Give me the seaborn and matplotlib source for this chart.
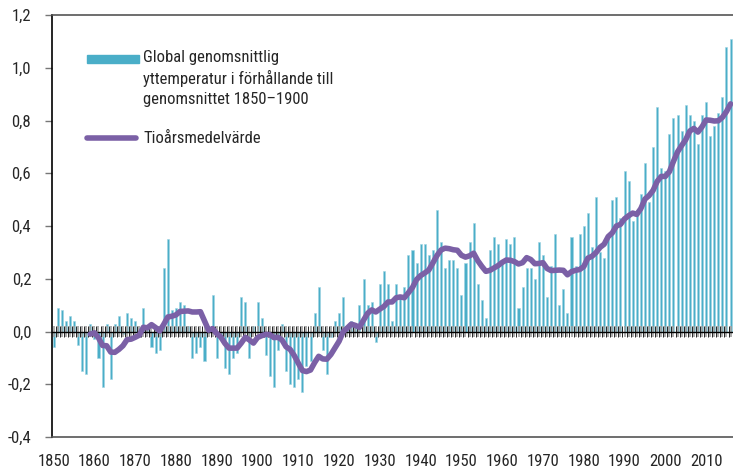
import matplotlib
matplotlib.use('Agg')
import matplotlib.pyplot as plt
import seaborn as sns
import pandas as pd
from matplotlib import font_manager
from matplotlib.patches import Rectangle
from matplotlib.lines import Line2D

# Global mean surface temperature, relative to the 1850-1900 average (degrees C)
years = list(range(1850, 2017))
anomaly = [
    -0.06, 0.09, 0.08, 0.04, 0.06, 0.04, -0.05, -0.15, -0.16, 0.03,   # 1850s
    -0.03, -0.10, -0.21, 0.03, -0.18, 0.03, 0.06, -0.01, 0.07, 0.05,  # 1860s
    0.04, -0.02, 0.09, 0.01, -0.06, -0.08, -0.07, 0.24, 0.35, 0.08,   # 1870s
    0.09, 0.11, 0.10, 0.02, -0.10, -0.08, -0.06, -0.11, 0.00, 0.14,   # 1880s
    -0.10, -0.02, -0.14, -0.16, -0.10, -0.08, 0.13, 0.11, -0.10, 0.02,  # 1890s
    0.11, 0.05, -0.09, -0.17, -0.21, -0.07, 0.03, -0.15, -0.20, -0.21,  # 1900s
    -0.18, -0.23, -0.13, -0.11, 0.07, 0.17, -0.07, -0.16, -0.02, 0.04,  # 1910s
    0.07, 0.13, 0.01, 0.04, 0.02, 0.10, 0.20, 0.10, 0.11, -0.04,      # 1920s
    0.18, 0.23, 0.18, 0.04, 0.18, 0.13, 0.17, 0.29, 0.31, 0.26,       # 1930s
    0.33, 0.33, 0.29, 0.31, 0.46, 0.34, 0.24, 0.27, 0.27, 0.24,       # 1940s
    0.14, 0.26, 0.34, 0.41, 0.18, 0.12, 0.05, 0.31, 0.36, 0.33,       # 1950s
    0.26, 0.35, 0.33, 0.36, 0.09, 0.17, 0.24, 0.24, 0.20, 0.34,       # 1960s
    0.29, 0.13, 0.25, 0.37, 0.10, 0.16, 0.07, 0.36, 0.25, 0.37,       # 1970s
    0.40, 0.45, 0.32, 0.51, 0.30, 0.28, 0.36, 0.50, 0.51, 0.43,       # 1980s
    0.61, 0.57, 0.42, 0.46, 0.52, 0.64, 0.49, 0.70, 0.85, 0.62,       # 1990s
    0.61, 0.75, 0.81, 0.82, 0.76, 0.86, 0.82, 0.80, 0.71, 0.82,       # 2000s
    0.87, 0.74, 0.78, 0.83, 0.89, 1.08, 1.11,                         # 2010s
]

# Ten-year average, 1859-2016
avg_years = list(range(1859, 2017))
ten_year_avg = [
    -0.01,                                                              # 1859
    -0.005, -0.024, -0.053, -0.054, -0.078, -0.079, -0.068, -0.054, -0.031, -0.029,
    -0.022, -0.014, 0.016, 0.014, 0.026, 0.015, 0.002, 0.027, 0.055, 0.058,
    0.063, 0.076, 0.077, 0.078, 0.074, 0.074, 0.075, 0.040, 0.005, 0.011,
    -0.008, -0.021, -0.045, -0.063, -0.063, -0.063, -0.044, -0.022, -0.032, -0.044,
    -0.023, -0.016, -0.011, -0.012, -0.023, -0.022, -0.032, -0.058, -0.068, -0.091,
    -0.120, -0.148, -0.152, -0.146, -0.118, -0.094, -0.104, -0.105, -0.087, -0.062,
    -0.037, -0.001, 0.013, 0.028, 0.023, 0.016, 0.043, 0.069, 0.082, 0.074,
    0.085, 0.095, 0.112, 0.112, 0.128, 0.131, 0.128, 0.147, 0.167, 0.197,
    0.212, 0.222, 0.233, 0.260, 0.288, 0.309, 0.316, 0.314, 0.310, 0.308,
    0.289, 0.282, 0.287, 0.297, 0.269, 0.247, 0.228, 0.232, 0.241, 0.250,
    0.262, 0.271, 0.270, 0.265, 0.256, 0.261, 0.280, 0.273, 0.257, 0.258,
    0.261, 0.239, 0.231, 0.232, 0.233, 0.232, 0.215, 0.227, 0.232, 0.235,
    0.246, 0.278, 0.285, 0.299, 0.319, 0.331, 0.360, 0.374, 0.400, 0.406,
    0.427, 0.439, 0.449, 0.444, 0.466, 0.502, 0.515, 0.535, 0.569, 0.588,
    0.588, 0.606, 0.645, 0.681, 0.705, 0.727, 0.760, 0.770, 0.756, 0.776,
    0.802, 0.801, 0.798, 0.799, 0.812, 0.834, 0.863,
]

y_ticks = [-0.4, -0.2, 0.0, 0.2, 0.4, 0.6, 0.8, 1.0, 1.2]
x_ticks = list(range(1850, 2011, 10))
bar_label = 'Global genomsnittlig\nyttemperatur i förhållande till\ngenomsnittet 1850\u20131900'
line_label = 'Tioårsmedelvärde'

bar_color = '#4aaec8'
line_color = '#7b60a6'

sns.set_style('white')

# pick a condensed face if one is installed, the original uses a narrow gothic
installed = {f.name for f in font_manager.fontManager.ttflist}
narrow = ['Roboto Condensed', 'PT Sans Narrow', 'Archivo Narrow', 'Liberation Sans Narrow',
          'Fira Sans Condensed', 'IBM Plex Sans Condensed', 'Barlow Condensed',
          'Open Sans Condensed']
chosen = [f for f in narrow if f in installed][:1]
plt.rcParams['font.family'] = chosen + ['DejaVu Sans']
fs = 12 if chosen else 10

bars_df = pd.DataFrame({'year': years, 'anomaly': anomaly})
line_df = pd.DataFrame({'year': avg_years, 'avg': ten_year_avg})

fig = plt.figure(figsize=(7.33, 4.70), dpi=100)
ax = fig.add_axes([52 / 733, 33 / 470, 681 / 733, 422 / 470])

ax.bar(bars_df['year'], bars_df['anomaly'], width=0.5, color=bar_color,
       edgecolor='#9fd3e2', linewidth=0.4, zorder=2)

# zero axis with a tick for every year
ax.axhline(0, color='black', lw=1.0, zorder=3)
ax.vlines(bars_df['year'], -0.02, 0.02, color='#a0a0a0', lw=1.2, zorder=2.5)
ax.vlines(bars_df['year'] + 0.5, -0.02, 0.02, color='black', lw=0.6, zorder=3)

sns.lineplot(data=line_df, x='year', y='avg', ax=ax, color=line_color,
             lw=4.0, solid_capstyle='round', solid_joinstyle='round', zorder=4)

ax.set_xlim(1849.6, 2016.6)
ax.set_ylim(-0.4, 1.2)
ax.set_yticks(y_ticks)
ax.set_yticklabels([f'{t:.1f}'.replace('.', ',') for t in y_ticks], fontsize=fs)
ax.set_xticks(x_ticks)
ax.set_xticklabels([str(t) for t in x_ticks], fontsize=fs)
ax.tick_params(axis='y', length=5, width=1, color='#777777', pad=10, left=True)
ax.tick_params(axis='x', length=0, pad=12)
ax.set_xlabel('')
ax.set_ylabel('')

ax.spines['left'].set_color('black')
ax.spines['left'].set_linewidth(1.2)
for side in ['top', 'bottom']:
    ax.spines[side].set_color('#555555')
    ax.spines[side].set_linewidth(1.2)
ax.spines['right'].set_visible(False)

# legend drawn by hand so the bar swatch sits on the first text line
ax.add_patch(Rectangle((0.0514, 0.887), 0.0764, 0.019, transform=ax.transAxes,
                       color=bar_color, clip_on=False, zorder=5))
ax.text(0.1336, 0.917, bar_label, transform=ax.transAxes, fontsize=fs,
        va='top', ha='left', linespacing=1.38)
ax.add_line(Line2D([0.052, 0.124], [0.7085, 0.7085], transform=ax.transAxes,
                   color=line_color, lw=4.0, solid_capstyle='round'))
ax.text(0.1336, 0.7085, line_label, transform=ax.transAxes, fontsize=fs,
        va='center', ha='left')

fig.savefig('out.png', dpi=100)
